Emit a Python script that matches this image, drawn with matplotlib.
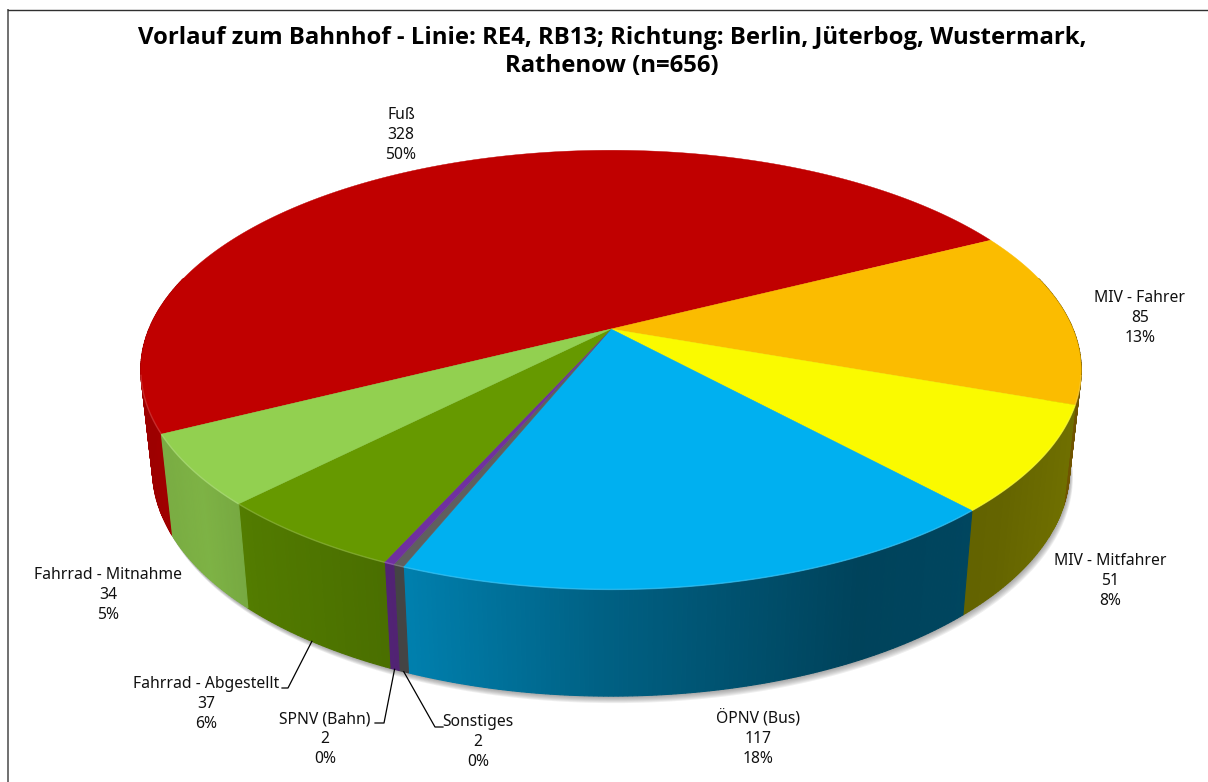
import numpy as np
import matplotlib
matplotlib.use("Agg")
import matplotlib.pyplot as plt
from matplotlib.patches import Polygon

# ---- data (clockwise, beginning with the large slice)
categories = ["Fuß", "MIV - Fahrer", "MIV - Mitfahrer", "ÖPNV (Bus)", "Sonstiges",
              "SPNV (Bahn)", "Fahrrad - Abgestellt", "Fahrrad - Mitnahme"]
values = [328, 85, 51, 117, 2, 2, 37, 34]
colors = ["#C00000", "#FBBC00", "#FAFA00", "#00B0F0", "#5F5F5F", "#7030A0", "#669900", "#92D050"]
title = "Vorlauf zum Bahnhof - Linie: RE4, RB13; Richtung: Berlin, Jüterbog, Wustermark,\nRathenow (n=656)"
label_pos = [(401, 135), (1140, 318), (1110, 581), (758, 738), (478, 742), (325, 739), (206, 704), (108, 595)]
# leader-line elbows: (category index, elbow, end)
leaders = [(6, (288, 688), (282, 688)), (5, (384, 723), (375, 723)), (4, (435, 727), (443, 727))]

FONT = "Noto Sans"
W, H = 1208, 782
fig = plt.figure(figsize=(W / 100, H / 100), dpi=100, facecolor="white")
ax = fig.add_axes([0, 0, 1, 1])
ax.set_xlim(0, W)
ax.set_ylim(H, 0)
ax.axis("off")

# ---- projection of the unit disc into picture space
X0, Y0, A, B, K = 611.0, 329.0, 462.0, 212.0, 0.186
START = 207.0

def top(theta):
    t = np.radians(theta)
    x, y = np.cos(t), np.sin(t)
    w = 1 + K * y
    return X0 + A * x / w, Y0 - B * y / w

def bottom(theta):
    x, y = top(theta)
    return X0 + 0.975 * (x - X0), 1.03 * y + 89

def shade(x):
    return np.interp(x, [145, 200, 250, 390, 410, 600, 860, 1000, 1081],
                     [.82, .86, .80, .72, .72, .55, .38, .40, .45])

vals = np.array(values, float)
ends = START - np.cumsum(vals) / vals.sum() * 360
starts = np.r_[START, ends[:-1]]

# ---- soft shadow under the lower rim
th = np.linspace(START - 360, START, 721)
bx, by = bottom(th)
for d in np.arange(7, 0, -1):
    ax.add_patch(Polygon(np.c_[bx + d * .5, by + d], closed=True, fc="#606060", ec="none", alpha=.10, zorder=1))

# ---- side wall: narrow shaded strips along the rim
for s, e, c in zip(starts, ends, colors):
    rgb = np.array(matplotlib.colors.to_rgb(c))
    n = max(int((s - e) * 2), 2)
    edges = np.linspace(s, e, n + 1)
    for a0, a1 in zip(edges[:-1], edges[1:]):
        if np.sin(np.radians((a0 + a1) / 2)) > 0.25:
            continue
        tx0, ty0 = top(a0); tx1, ty1 = top(a1)
        bx0, by0 = bottom(a0); bx1, by1 = bottom(a1)
        col = rgb * shade((tx0 + tx1) / 2)
        ax.add_patch(Polygon([(tx0, ty0), (tx1, ty1), (bx1, by1), (bx0, by0)], closed=True,
                             fc=col, ec=col, lw=.8, zorder=2))

# ---- top face
for s, e, c in zip(starts, ends, colors):
    th = np.linspace(s, e, max(int(abs(s - e) * 2), 4))
    x, y = top(th)
    ax.add_patch(Polygon(np.c_[np.r_[X0, x], np.r_[Y0, y]], closed=True, fc=c, ec=c, lw=.3, zorder=3))
    # light bevel along the front rim only
    front = np.sin(np.radians(th)) < -0.2
    if front.any():
        light = np.array(matplotlib.colors.to_rgb(c)) * .72 + .28
        ax.plot(x[front], y[front], color=light, lw=1.0, alpha=.6, zorder=4, solid_capstyle="butt")

# ---- labels
for name, v, (lx, ly) in zip(categories, values, label_pos):
    pct = round(v / vals.sum() * 100)
    ax.text(lx, ly, f"{name}\n{v}\n{pct}%", ha="center", va="center", fontsize=11.3, family=FONT,
            color="#111111", linespacing=1.33, zorder=6)

# ---- leader lines
for i, elbow, end in leaders:
    a = (starts[i] + ends[i]) / 2
    ax.plot(*zip(bottom(a), elbow, end), color="black", lw=.9, zorder=5)

# ---- title and frame
ax.text(612, 52, title, ha="center", va="center", fontsize=17.2, fontweight="bold", family="Open Sans",
        color="black", linespacing=1.27, zorder=6)
ax.plot([8, 8], [10, H], color="#707070", lw=1.4, zorder=0)
ax.plot([8, W], [10, 10], color="#303030", lw=1.0, zorder=0)

fig.savefig("out.png", dpi=100, facecolor="white")
